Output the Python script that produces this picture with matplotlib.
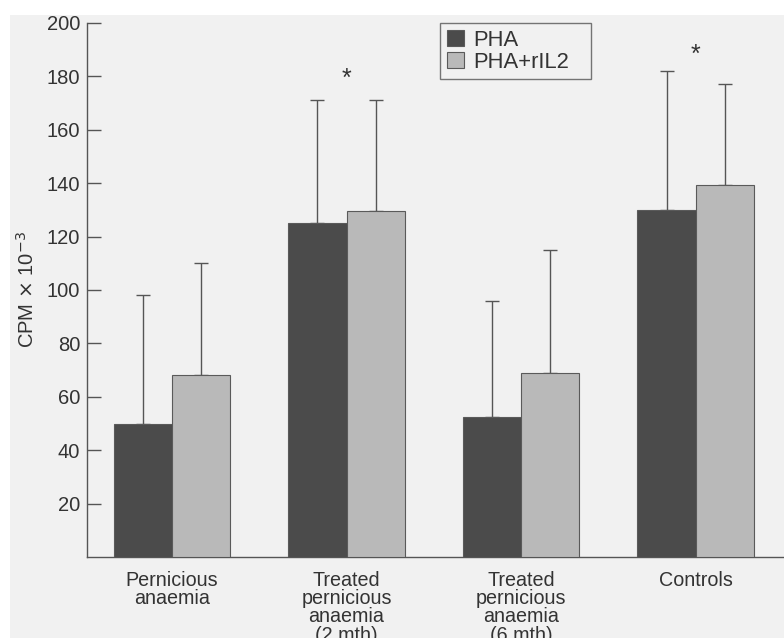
import matplotlib
matplotlib.use("Agg")
import matplotlib.pyplot as plt
import numpy as np
from matplotlib.patches import Rectangle

plt.rcParams['font.family'] = ['Liberation Sans', 'DejaVu Sans']

categories = ["Pernicious\nanaemia", "Treated\npernicious\nanaemia\n(2 mth)",
              "Treated\npernicious\nanaemia\n(6 mth)", "Controls"]
pha = [50, 125, 52.5, 130]
pha_err_top = [98, 171, 96, 182]
pharil2 = [68, 129.5, 69, 139.5]
pharil2_err_top = [110, 171, 115, 177]
significant = [False, True, False, True]
star_y = [None, 179, None, 188]
yticks = [20, 40, 60, 80, 100, 120, 140, 160, 180, 200]

dark = "#4b4b4b"
light = "#b9b9b9"
edge = "#5a5a5a"

fig = plt.figure(figsize=(7.84, 6.38), dpi=100)
fig.patch.set_facecolor("white")
fig.patches.append(Rectangle((10/784, 0), 1 - 10/784, 1 - 15/638, transform=fig.transFigure,
                             facecolor="#f1f1f1", edgecolor="none", zorder=-10))

ax_w = 1 - 87/784 + 0.01
ax = fig.add_axes([87/784, 1 - 557/638, ax_w, (557 - 23)/638])
ax.set_facecolor("none")

x = np.arange(len(categories))
w = 0.334
ax.bar(x - w/2, pha, w, color=dark, edgecolor=edge, linewidth=0.8, label="PHA", zorder=3)
ax.bar(x + w/2, pharil2, w, color=light, edgecolor=edge, linewidth=0.8, label="PHA+rIL2", zorder=3)

pha_err = np.array(pha_err_top) - np.array(pha)
ril_err = np.array(pharil2_err_top) - np.array(pharil2)
ax.errorbar(x - w/2, pha, yerr=[np.zeros(4), pha_err], fmt="none", ecolor="#555555",
            elinewidth=1.0, capsize=5, capthick=1.0, zorder=2)
ax.errorbar(x + w/2, pharil2, yerr=[np.zeros(4), ril_err], fmt="none", ecolor="#555555",
            elinewidth=1.0, capsize=5, capthick=1.0, zorder=2)

for xi, s, sy in zip(x, significant, star_y):
    if s:
        ax.text(xi, sy, "*", ha="center", va="center", fontsize=18, color="#333333")

ax.set_xlim(-0.486, 3.55)
ax.set_ylim(0, 200)
ax.set_yticks(yticks)
ax.set_yticklabels([str(t) for t in yticks], fontsize=14.5, color="#333333")
ax.tick_params(axis="y", direction="in", length=10, width=1.0, color="#555555", pad=5)
ax.set_xticks(x)
ax.set_xticklabels(categories, fontsize=14.2, color="#333333", linespacing=0.95)
ax.tick_params(axis="x", length=0, pad=10)

for s in ["top", "right"]:
    ax.spines[s].set_visible(False)
for s in ["left", "bottom"]:
    ax.spines[s].set_color("#555555")
    ax.spines[s].set_linewidth(1.0)

ax.set_ylabel(r"CPM $\times$ 10$^{-3}$", fontsize=14.5, color="#333333", labelpad=6)

ax_px_w = ax_w * 784
ax_px_h = 557 - 23
leg = ax.legend(loc="upper left",
                bbox_to_anchor=((440 - 87) / ax_px_w, 1 - 58 / ax_px_h, 151 / ax_px_w, 58 / ax_px_h),
                mode="expand", borderaxespad=0, fontsize=15.8, frameon=True, fancybox=False,
                handlelength=0.8, handleheight=0.8,
                handletextpad=0.4, borderpad=0.3, labelspacing=0.05)
leg.get_frame().set_edgecolor("#555555")
leg.get_frame().set_facecolor("none")
leg.get_frame().set_linewidth(1.0)
for t in leg.get_texts():
    t.set_color("#333333")

fig.savefig("out.png", dpi=100, facecolor=fig.get_facecolor())
